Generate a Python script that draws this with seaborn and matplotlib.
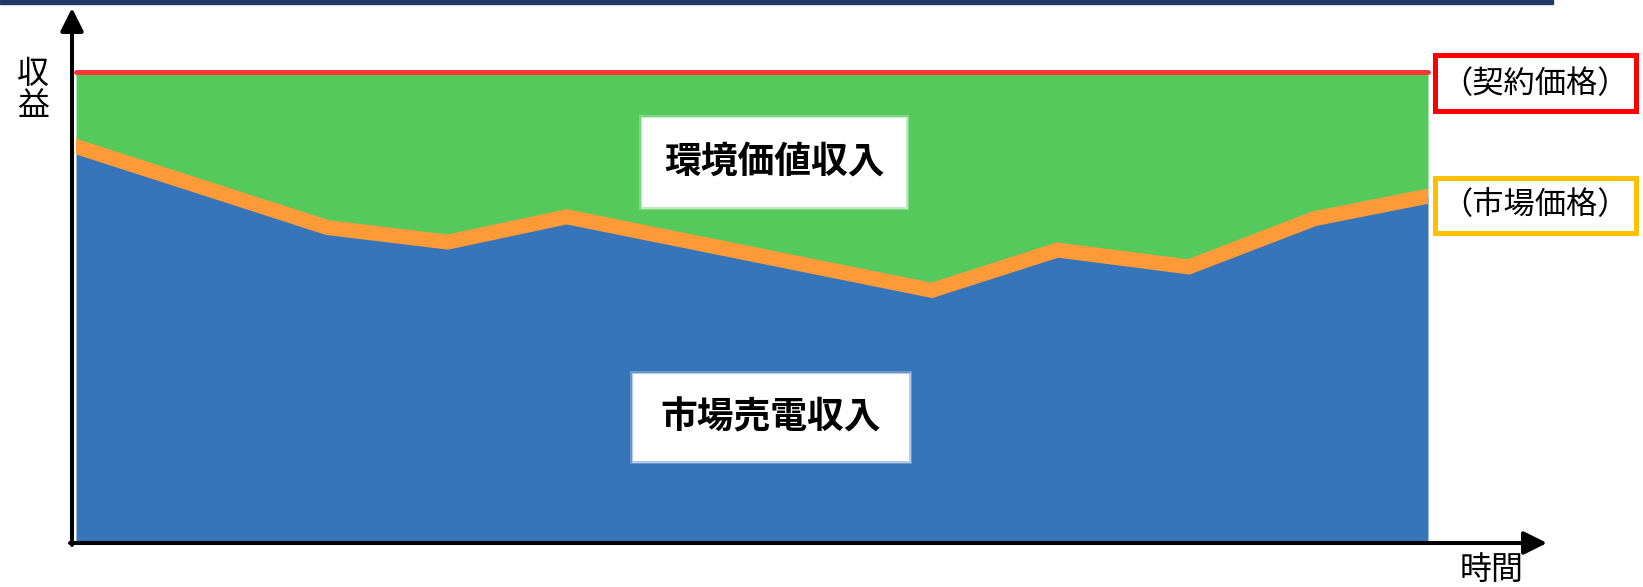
import numpy as np
import pandas as pd
import seaborn as sns
import matplotlib.pyplot as plt
from matplotlib.patches import Rectangle

# データ
time = [0, 18.6, 27.5, 36.3, 63.3, 72.6, 82.3, 91.6, 100]
market_price = [84.2, 66.9, 63.8, 69.2, 53.5, 62.1, 58.5, 68.8, 73.6]
contract_price = 100

label_env = "環境価値収入"
label_market = "市場売電収入"
label_contract = "（契約価格）"
label_mprice = "（市場価格）"
ylabel = "収\n益"
xlabel = "時間"

sns.set_style("white")
plt.rcParams['font.family'] = ['Noto Sans CJK JP', 'DejaVu Sans']
plt.rcParams['text.color'] = 'black'

W, H = 1643, 587
fig = plt.figure(figsize=(W / 100, H / 100), dpi=100)
ax = fig.add_axes([76 / W, 46 / H, (1428 - 76) / W, (541 - 72.5) / H])


def fx(px):
    return px / W


def fy(py):
    return 1 - py / H


def box(x0, y0, x1, y1, **kw):
    # 画像座標（左上原点）で矩形を追加
    r = Rectangle((fx(x0), fy(y1)), fx(x1) - fx(x0), fy(y0) - fy(y1),
                  transform=fig.transFigure, **kw)
    fig.patches.append(r)


df = pd.DataFrame({'time': time, 'market': market_price})

ax.fill_between(df['time'], 0, df['market'], color='#3675B9', lw=0)
ax.fill_between(df['time'], df['market'], contract_price, color='#55C95C', lw=0)
sns.lineplot(data=df, x='time', y='market', ax=ax, color='#FF9A38', lw=10.8,
             solid_joinstyle='miter', solid_capstyle='projecting')
sns.lineplot(x=[0, 100], y=[contract_price, contract_price], ax=ax,
             color='#FF3838', lw=3.6, clip_on=False)

ax.set_xlim(0, 100)
ax.set_ylim(0, 100)
ax.set_axis_off()

# 枠内ラベル（白い箱、ぼかし風の縁）
for (x0, y0, x1, y1) in [(642, 118, 906, 207), (633, 374, 909, 461)]:
    for g, a in [(3, 0.25), (1.5, 0.5)]:
        box(x0 - g, y0 - g, x1 + g, y1 + g, fc='white', ec='none', alpha=a,
            zorder=3)
    box(x0, y0, x1, y1, fc='white', ec='none', zorder=3)

fig.text(fx(774), fy(162.5), label_env, ha='center', va='center',
         fontsize=26.5, fontweight='bold', zorder=4)
fig.text(fx(771), fy(417.5), label_market, ha='center', va='center',
         fontsize=26.5, fontweight='bold', zorder=4)

# 右側ラベル
box(1434.5, 54.5, 1635.5, 110.5, fc='white', ec='#FF0000', lw=3.6)
box(1434.5, 177.5, 1635.5, 232.5, fc='white', ec='#FFC000', lw=3.6)
fig.text(fx(1535), fy(84), label_contract, ha='center', va='center',
         fontsize=22.5, zorder=4)
fig.text(fx(1535), fy(205), label_mprice, ha='center', va='center',
         fontsize=22.5, zorder=4)

# 軸の矢印
arrow = dict(arrowstyle='-|>,head_length=0.7,head_width=0.35', color='black',
             lw=2.9, mutation_scale=20, shrinkA=0, shrinkB=0)
ax.annotate('', xy=(fx(72), fy(8)), xytext=(fx(72), fy(545)),
            xycoords='figure fraction', textcoords='figure fraction',
            arrowprops=arrow)
ax.annotate('', xy=(fx(1547), fy(543)), xytext=(fx(70), fy(543)),
            xycoords='figure fraction', textcoords='figure fraction',
            arrowprops=arrow)

fig.text(fx(33), fy(90), ylabel, ha='center', va='center', fontsize=23,
         linespacing=1.0)
fig.text(fx(1492), fy(570), xlabel, ha='center', va='center', fontsize=23)

# 上部の帯
box(0, 0, 1553, 4, color='#203864')

fig.savefig('out.png', dpi=100)
